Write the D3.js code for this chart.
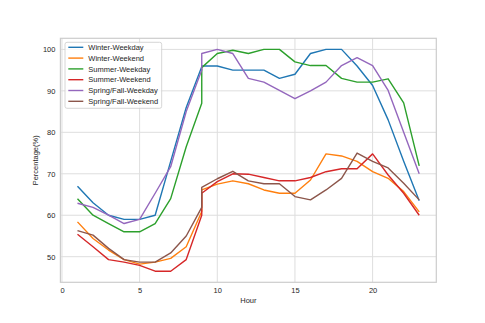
<!DOCTYPE html>
<html>
<head>
<meta charset="utf-8">
<script src="https://cdn.jsdelivr.net/npm/d3@7"></script>
<style>
body { margin: 0; background: #fff; }
text { font-family: "Liberation Sans", Arial, sans-serif; fill: #262626; }
</style>
</head>
<body>
<script>
// hour 9 shows up twice in the source data (vertical jump)
var hours = [1,2,3,4,5,6,7,8,9,9,10,11,12,13,14,15,16,17,18,19,20,21,22,23];

var seriesNames = ["Winter-Weekday", "Winter-Weekend", "Summer-Weekday", "Summer-Weekend", "Spring/Fall-Weekday", "Spring/Fall-Weekend"];

var winterWeekday = [67,63,60,59,59,60,73,86,95.8,96,96,95,95,95,93,94,99,100,100,96,91.3,83,73,63.5];
var winterWeekend = [58.4,54.4,51.6,49.3,48.2,48.7,49.6,52.4,60.9,66.1,67.5,68.3,67.6,66.1,65.3,65.3,68.5,74.8,74.3,73,70.5,68.9,65.7,60.8];
var summerWeekday = [64,60,58,56,56,58,64,76.5,87,95.6,99,99.8,99,100,100,97,96.1,96.1,93,92.1,92.1,92.9,87.1,71.9];
var summerWeekend = [55.4,52.4,49.3,48.7,47.9,46.5,46.5,49.3,60,65.3,68.1,70,69.9,69.1,68.3,68.3,69.1,70.5,71.2,71.2,74.8,69.7,65.3,60];
var springFallWeekday = [62.9,61.9,60,58,59,65.3,71.7,85,95,99,100,99,93,92.1,90.1,88.1,90,92.1,96.1,98,96.1,90.1,80,70];
var springFallWeekend = [56.3,55.2,52,49.3,48.7,48.7,50.9,55,61.9,66.7,68.8,70.6,68.3,67.6,67.6,64.5,63.7,66.1,68.9,75,73,71.4,67.7,63.7];

var allSeries = [winterWeekday, winterWeekend, summerWeekday, summerWeekend, springFallWeekday, springFallWeekend];
var colors = ["#1f77b4", "#ff7f0e", "#2ca02c", "#d62728", "#9467bd", "#8c564b"];

var xTicks = [0, 5, 10, 15, 20];
var yTicks = [50, 60, 70, 80, 90, 100];

var W = 485, H = 323;
var margin = {top: 38.3, right: 48.7, bottom: 40.7, left: 60.4};
var width = W - margin.left - margin.right,
    height = H - margin.top - margin.bottom;

// matplotlib style 5% padding
var xExt = d3.extent(hours), xPad = (xExt[1] - xExt[0]) * 0.05;
var yMin = d3.min(allSeries, function(s) { return d3.min(s); }),
    yMax = d3.max(allSeries, function(s) { return d3.max(s); }),
    yPad = (yMax - yMin) * 0.05;

var x = d3.scaleLinear().domain([xExt[0] - xPad, xExt[1] + xPad]).range([0, width]);
var y = d3.scaleLinear().domain([yMin - yPad, yMax + yPad]).range([height, 0]);

var svg = d3.select("body").append("svg")
  .attr("width", W)
  .attr("height", H)
  .append("g")
  .attr("transform", "translate(" + margin.left + "," + margin.top + ")");

//grid
svg.append("g").selectAll("line.gx")
  .data(xTicks).enter().append("line")
  .attr("x1", function(d) { return x(d); }).attr("x2", function(d) { return x(d); })
  .attr("y1", 0).attr("y2", height)
  .attr("stroke", "#dedede").attr("stroke-width", 1);
svg.append("g").selectAll("line.gy")
  .data(yTicks).enter().append("line")
  .attr("y1", function(d) { return y(d); }).attr("y2", function(d) { return y(d); })
  .attr("x1", 0).attr("x2", width)
  .attr("stroke", "#dedede").attr("stroke-width", 1);

//axes (no tick marks, seaborn whitegrid)
var xAxis = svg.append("g")
  .attr("transform", "translate(0," + height + ")")
  .call(d3.axisBottom(x).tickValues(xTicks).tickSize(0).tickPadding(5));
var yAxis = svg.append("g")
  .call(d3.axisLeft(y).tickValues(yTicks).tickSize(0).tickPadding(5));
[xAxis, yAxis].forEach(function(a) {
  a.select(".domain").remove();
  a.selectAll("text").style("font-size", "7.5px").style("font-family", "'Liberation Sans', Arial, sans-serif").attr("fill", "#262626");
});

//frame
svg.append("rect")
  .attr("width", width).attr("height", height)
  .attr("fill", "none").attr("stroke", "#cccccc").attr("stroke-width", 1.2);

//lines
var line = d3.line()
  .x(function(d, i) { return x(hours[i]); })
  .y(function(d) { return y(d); });

svg.selectAll(".series")
  .data(allSeries).enter().append("path")
  .attr("class", "series")
  .attr("d", line)
  .attr("fill", "none")
  .attr("stroke", function(d, i) { return colors[i]; })
  .attr("stroke-width", 1.4)
  .attr("stroke-linejoin", "round");

//labels
svg.append("text")
  .attr("x", width / 2).attr("y", height + 21)
  .attr("text-anchor", "middle")
  .style("font-size", "7.5px")
  .text("Hour");
svg.append("text")
  .attr("transform", "translate(" + (-22) + "," + (height / 2) + ") rotate(-90)")
  .attr("text-anchor", "middle")
  .style("font-size", "7.5px")
  .text("Percentage(%)");

//legend
var legend = svg.append("g").attr("transform", "translate(4.6,4)");
legend.append("rect")
  .attr("width", 96.7).attr("height", 66)
  .attr("rx", 2).attr("ry", 2)
  .attr("fill", "#ffffff").attr("fill-opacity", 0.8)
  .attr("stroke", "#cccccc").attr("stroke-width", 0.8);
var item = legend.selectAll(".item")
  .data(seriesNames).enter().append("g")
  .attr("transform", function(d, i) { return "translate(0," + (5 + i * 10.8) + ")"; });
item.append("line")
  .attr("x1", 3.3).attr("x2", 18.3)
  .attr("y1", 0).attr("y2", 0)
  .attr("stroke", function(d, i) { return colors[i]; })
  .attr("stroke-width", 1.4);
item.append("text")
  .attr("x", 23.3).attr("y", 0).attr("dy", "0.35em")
  .style("font-size", "7.5px")
  .text(function(d) { return d; });
</script>
</body>
</html>
